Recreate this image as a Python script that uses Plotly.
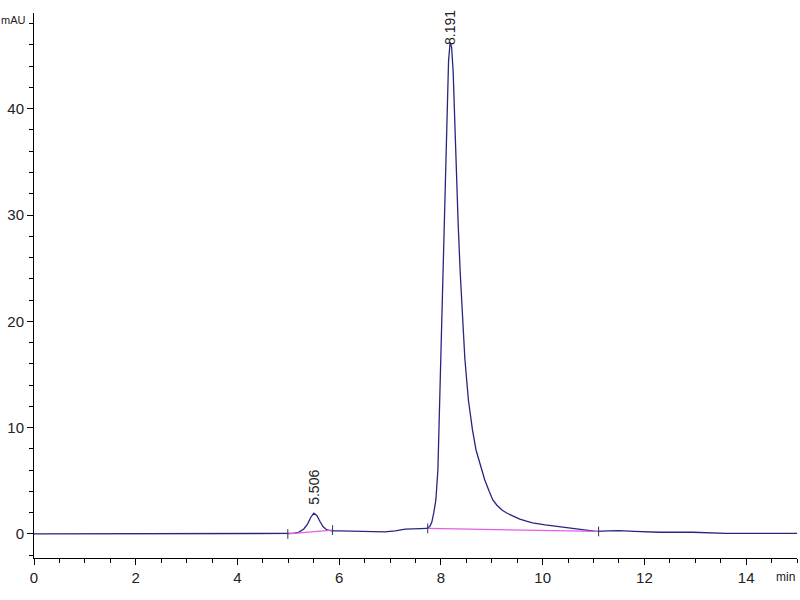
import plotly.graph_objects as go

# Chromatogram signal (time in min, absorbance in mAU)
time_min = [0.0, 1.3, 1.5, 2.0, 3.0, 4.0, 4.9, 5.1, 5.2, 5.3, 5.38, 5.44, 5.5, 5.56, 5.62,
            5.68, 5.75, 5.85, 6.0, 6.5, 6.9, 7.1, 7.3, 7.6, 7.72, 7.78, 7.82, 7.86, 7.9,
            7.94, 7.97, 8.0, 8.03, 8.06, 8.09, 8.12, 8.15, 8.18, 8.21, 8.24, 8.27, 8.30,
            8.34, 8.38, 8.42, 8.47, 8.54, 8.62, 8.69, 8.78, 8.86, 8.95, 9.02, 9.1, 9.2,
            9.3, 9.42, 9.55, 9.68, 9.8, 10.05, 10.33, 10.6, 10.85, 11.05, 11.3, 11.5,
            11.8, 12.3, 12.95, 13.3, 13.6, 15.0]
signal_mau = [0.0, 0.0, 0.02, 0.0, 0.0, 0.0, 0.0, 0.05, 0.15, 0.45, 0.95, 1.55, 1.95, 1.75, 1.2,
              0.7, 0.4, 0.3, 0.3, 0.28, 0.2, 0.3, 0.45, 0.5, 0.52, 0.7, 1.1, 2.0, 3.2,
              6.0, 11.5, 17.5, 23.5, 29.0, 35.0, 40.5, 44.5, 46.2, 45.8, 43.5, 39.0, 34.0,
              29.0, 24.5, 20.5, 16.5, 12.6, 9.8, 7.9, 6.3, 5.1, 4.0, 3.2, 2.7, 2.25,
              1.95, 1.65, 1.4, 1.2, 1.05, 0.85, 0.7, 0.55, 0.4, 0.25, 0.3, 0.32,
              0.25, 0.16, 0.16, 0.08, 0.06, 0.06]

# Integration baselines (start, end)
base1_t = [4.99, 5.87]
base1_y = [0.0, 0.37]
base2_t = [7.74, 11.1]
base2_y = [0.52, 0.24]

# Peak labels
peak_rt = [5.506, 8.191]
peak_h = [1.95, 46.2]
peak_text = ["5.506", "8.191"]

x_ticks = [0, 2, 4, 6, 8, 10, 12, 14]
y_ticks = [0, 10, 20, 30, 40]

FONT = "Liberation Sans Narrow, Liberation Sans, Arial, sans-serif"

fig = go.Figure()
fig.add_trace(go.Scatter(x=time_min, y=signal_mau, mode="lines",
                         line=dict(color="#26267f", width=1.3), showlegend=False))
for bt, by in [(base1_t, base1_y), (base2_t, base2_y)]:
    fig.add_trace(go.Scatter(x=bt, y=by, mode="lines+markers",
                             line=dict(color="#e65ce6", width=1.3),
                             marker=dict(symbol="line-ns", size=7,
                                         line=dict(color="#333355", width=1)),
                             showlegend=False))

for rt, h, txt, ys in zip(peak_rt, peak_h, peak_text, [6, -4]):
    fig.add_annotation(x=rt, y=h, text=txt, textangle=-90, showarrow=False,
                       xanchor="center", yanchor="bottom", yshift=ys,
                       font=dict(family=FONT, size=14, color="#222222"))

fig.add_annotation(x=0, y=1, xref="paper", yref="paper", text="mAU", showarrow=False,
                   xanchor="left", yanchor="middle", xshift=-35, yshift=-7,
                   font=dict(family=FONT, size=11, color="#222222"))
fig.add_annotation(x=1, y=0, xref="paper", yref="paper", text="min", showarrow=False,
                   xanchor="right", yanchor="top", xshift=0, yshift=-10,
                   font=dict(family=FONT, size=12, color="#222222"))

fig.update_xaxes(range=[0, 15.0], tickvals=x_ticks, ticktext=[str(v) for v in x_ticks],
                 showline=True, linecolor="black", linewidth=1, ticks="outside",
                 ticklen=6, tickcolor="black", showgrid=False, zeroline=False,
                 automargin=False,
                 tickfont=dict(family=FONT, size=15, color="#222222"),
                 minor=dict(dtick=0.5, tick0=0, ticks="outside", ticklen=4,
                            tickcolor="black", showgrid=False))
fig.update_yaxes(range=[-2.26, 49.0], tickvals=y_ticks, ticktext=[str(v) for v in y_ticks],
                 showline=True, linecolor="black", linewidth=1, ticks="outside",
                 ticklen=6, tickcolor="black", showgrid=False, zeroline=False,
                 automargin=False,
                 tickfont=dict(family=FONT, size=15, color="#222222"),
                 minor=dict(dtick=2, tick0=0, ticks="outside", ticklen=4,
                            tickcolor="black", showgrid=False))

fig.update_layout(width=800, height=600, margin=dict(l=34, r=3, t=13, b=42),
                  plot_bgcolor="white", paper_bgcolor="white")
fig.write_html("out.html", config={"displayModeBar": False},
               post_script="document.body.style.margin='0';document.body.style.overflow='hidden';")
